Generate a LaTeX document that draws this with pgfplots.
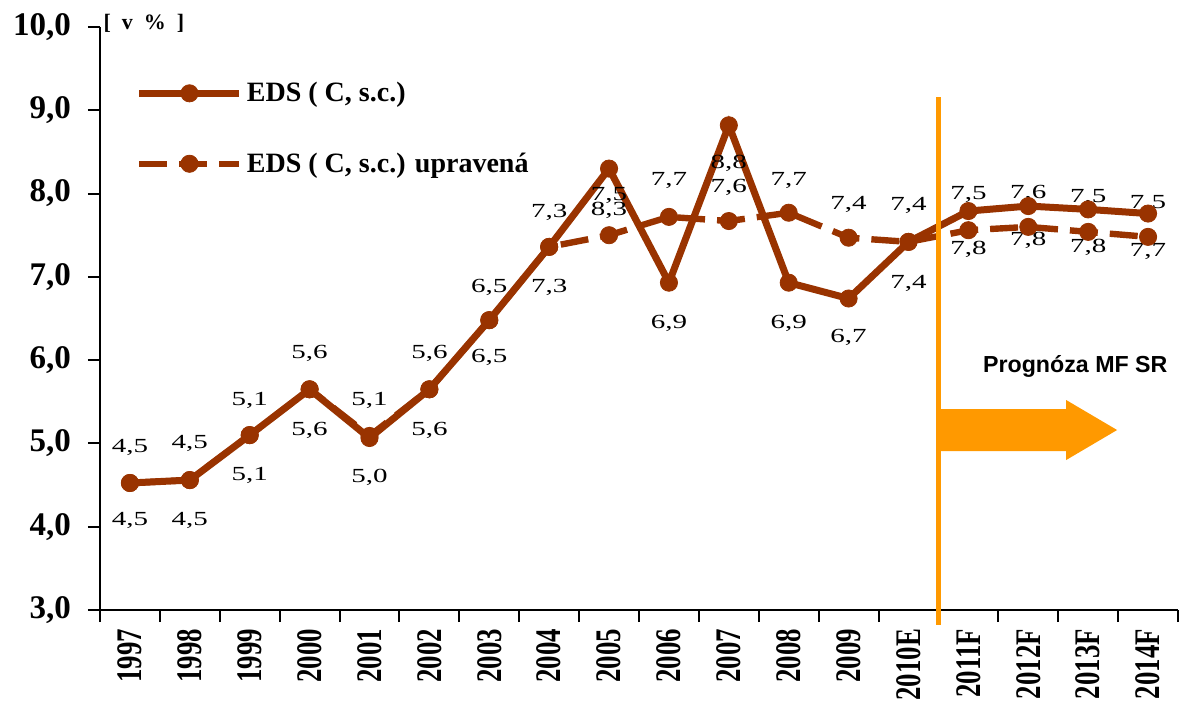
\documentclass[border=0pt]{standalone}
\usepackage{graphicx}
\usepackage{fontspec}
\setmainfont{Liberation Serif}
\setsansfont{Liberation Sans}
\usepackage{pgfplots}
\pgfplotsset{compat=1.18}
\definecolor{brn}{RGB}{153,51,0}
\definecolor{org}{RGB}{255,153,0}
\newcommand\xl[1]{\scalebox{0.745}[1]{#1}}
\newcommand\lb[4]{\node[font=\fontsize{10}{12}\selectfont,inner sep=0pt] at (axis cs:#1,#2) {\scalebox{1.45}[1]{#3,#4}};}
\begin{document}
\begin{tikzpicture}
\useasboundingbox (-50pt,-51pt) rectangle (548.5pt,305pt);
\begin{axis}[
  scale only axis, width=539pt, height=291.5pt,
  xmin=-0.5, xmax=17.5, ymin=3, ymax=10,
  axis x line*=bottom, axis y line*=left,
  axis line style={line width=1pt},
  tick style={line width=1pt, black},
  tick align=outside,
  clip=false,
  ytick={3,4,5,6,7,8,9,10},
  yticklabels={{3,0},{4,0},{5,0},{6,0},{7,0},{8,0},{9,0},{10,0}},
  major tick length=6pt,
  yticklabel style={font=\bfseries\fontsize{16.5}{18}\selectfont, xshift=-5pt},
  xtick={-0.5,0.5,...,17.5},
  x tick label as interval,
  xticklabels={\xl{1997},\xl{1998},\xl{1999},\xl{2000},\xl{2001},\xl{2002},\xl{2003},\xl{2004},\xl{2005},\xl{2006},\xl{2007},\xl{2008},\xl{2009},\xl{2010E},\xl{2011F},\xl{2012F},\xl{2013F},\xl{2014F}},
  xticklabel style={font=\bfseries\fontsize{18}{20}\selectfont, rotate=90, anchor=east},
  legend cell align=left,
  legend style={draw=none, fill=none, at={(0.033,0.913)}, anchor=north west,
    font=\bfseries\fontsize{14}{16}\selectfont, row sep=20pt, inner sep=0pt},
  legend image code/.code={\draw[mark repeat=2,mark phase=2,#1] plot coordinates {(0pt,0pt) (25pt,0pt) (50pt,0pt)};},
]
\addplot[brn, line width=3.5pt, mark=*, mark size=4.3pt, mark options={line width=0.4pt}] coordinates {
(0,4.525)(1,4.56)(2,5.10)(3,5.65)(4,5.065)(5,5.65)(6,6.48)(7,7.36)(8,8.30)(9,6.93)(10,8.82)(11,6.93)(12,6.74)(13,7.42)(14,7.79)(15,7.85)(16,7.81)(17,7.76)};
\addlegendentry{EDS ( C, s.c.)}
\addplot[brn, line width=3.2pt, dash pattern=on 14pt off 6pt, mark=*, mark size=4.3pt, mark options={solid, line width=0.4pt}] coordinates {
(0,4.525)(1,4.56)(2,5.10)(3,5.65)(4,5.09)(5,5.65)(6,6.48)(7,7.36)(8,7.50)(9,7.72)(10,7.67)(11,7.77)(12,7.47)(13,7.42)(14,7.56)(15,7.60)(16,7.54)(17,7.48)};
\addlegendentry{EDS ( C, s.c.) upravená}
\draw[org, line width=2.5pt] (axis cs:13.5,2.82) -- (axis cs:13.5,9.16);
\fill[org] (axis cs:13.48,5.413) -- (axis cs:15.633,5.413) -- (axis cs:15.633,5.521) -- (axis cs:16.483,5.161) -- (axis cs:15.633,4.801) -- (axis cs:15.633,4.909) -- (axis cs:13.48,4.909) -- cycle;
\node[anchor=east, font=\sffamily\bfseries\fontsize{11.6}{14}\selectfont, inner sep=0pt] at (axis cs:17.33,5.93) {Prognóza MF SR};
\node[anchor=south west, font=\bfseries\fontsize{11}{12}\selectfont, inner sep=0pt] at (rel axis cs:0.003,0.99) {[\enspace v\enspace\%\enspace]};
\lb{0}{4.957}{4}{5} \lb{0}{4.081}{4}{5}
\lb{1}{5.005}{4}{5} \lb{1}{4.081}{4}{5}
\lb{2}{5.521}{5}{1} \lb{2}{4.621}{5}{1}
\lb{3}{6.086}{5}{6} \lb{3}{5.161}{5}{6}
\lb{4}{5.521}{5}{1} \lb{4}{4.597}{5}{0}
\lb{5}{6.086}{5}{6} \lb{5}{5.161}{5}{6}
\lb{6}{6.878}{6}{5} \lb{6}{6.038}{6}{5}
\lb{7}{7.779}{7}{3} \lb{7}{6.878}{7}{3}
\lb{8}{7.971}{7}{5} \lb{8}{7.803}{8}{3}
\lb{9}{8.163}{7}{7} \lb{9}{6.446}{6}{9}
\lb{10}{8.367}{8}{8} \lb{10}{8.079}{7}{6}
\lb{11}{8.163}{7}{7} \lb{11}{6.446}{6}{9}
\lb{12}{7.875}{7}{4} \lb{12}{6.278}{6}{7}
\lb{13}{7.862}{7}{4} \lb{13}{6.926}{7}{4}
\lb{14}{7.983}{7}{5} \lb{14}{7.334}{7}{8}
\lb{15}{8.007}{7}{6} \lb{15}{7.442}{7}{8}
\lb{16}{7.958}{7}{5} \lb{16}{7.358}{7}{8}
\lb{17}{7.886}{7}{5} \lb{17}{7.310}{7}{7}
\end{axis}
\end{tikzpicture}
\end{document}
